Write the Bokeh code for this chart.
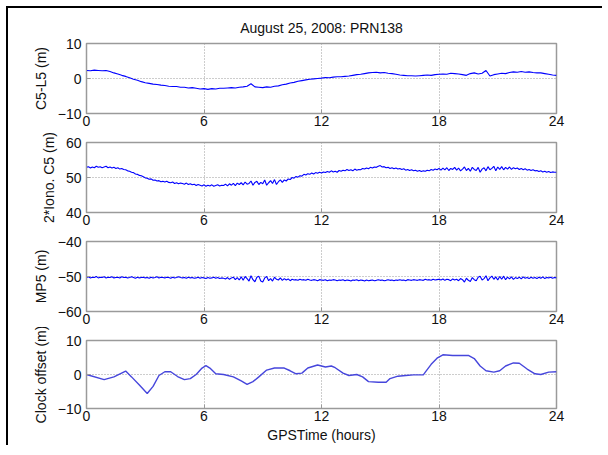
import numpy as np
from bokeh.plotting import figure
from bokeh.layouts import column
from bokeh.models import FixedTicker, Range1d, Title
from bokeh.embed import file_html
from bokeh.resources import INLINE

# ---------------- data ----------------
title_text = "August 25, 2008: PRN138"
x_ticks = [0, 6, 12, 18, 24]

# C5-L5 (m), sampled every 0.2 h
c5l5 = [2.3, 2.2, 2.4, 2.3, 2.2, 2.3, 2.0, 1.6, 1.3, 0.9,
        0.6, 0.2, -0.2, -0.5, -0.9, -1.2, -1.4, -1.6, -1.7, -1.9,
        -2.0, -2.2, -2.3, -2.3, -2.5, -2.5, -2.7, -2.6, -2.8, -3.0,
        -2.9, -3.1, -2.9, -3.0, -2.8, -2.8, -2.7, -2.6, -2.7, -2.5,
        -2.4, -2.2, -1.5, -2.4, -2.5, -2.6, -2.4, -2.5, -2.2, -2.1,
        -1.8, -1.6, -1.3, -1.1, -0.8, -0.6, -0.4, -0.2, -0.1, 0.0,
        0.1, 0.3, 0.2, 0.4, 0.5, 0.5, 0.6, 0.7, 0.9, 1.1,
        1.2, 1.4, 1.6, 1.7, 1.8, 1.6, 1.7, 1.5, 1.4, 1.2,
        1.0, 0.9, 0.8, 0.8, 0.7, 0.8, 0.9, 1.0, 0.9, 1.1,
        1.2, 1.3, 1.2, 1.5, 1.4, 1.3, 1.1, 0.9, 1.4, 1.6,
        1.3, 1.5, 2.3, 0.7, 1.1, 1.3, 1.5, 1.4, 1.7, 1.9,
        1.8, 2.0, 1.8, 1.9, 1.7, 1.6, 1.6, 1.4, 1.2, 1.0,
        0.9]

# 2*Iono. C5 (m), sampled every 0.1 h
iono = [52.9, 53.1, 52.7, 53.0, 52.8, 53.2, 52.9, 53.1, 52.8, 53.0,
        53.2, 52.8, 53.0, 52.7, 52.9, 52.6, 52.8, 52.4, 52.6, 52.3,
        52.2, 51.9, 51.8, 51.5, 51.4, 51.0, 50.9, 50.6, 50.5, 50.2,
        49.9, 49.8, 49.5, 49.6, 49.2, 49.3, 49.0, 49.1, 48.8, 48.9,
        48.7, 48.9, 48.6, 48.5, 48.7, 48.3, 48.5, 48.2, 48.4, 48.3,
        48.1, 48.4, 48.0, 48.2, 47.9, 48.1, 47.7, 48.0, 47.8, 47.6,
        47.9, 47.5, 47.8, 47.6, 47.9, 47.5, 47.7, 47.9, 47.6, 47.8,
        47.7, 48.1, 47.6, 48.2, 47.8, 48.3, 47.7, 48.4, 48.0, 48.5,
        47.9, 48.7, 48.1, 48.3, 49.0, 47.8, 48.6, 48.9, 48.0, 48.6,
        48.2, 49.3, 47.8, 48.5, 49.1, 48.3, 49.4, 48.0, 48.8, 49.3,
        48.6, 49.3, 49.0, 49.6, 49.4, 50.0, 49.8, 50.3, 50.1, 50.5,
        50.4, 50.9, 50.7, 51.1, 50.9, 51.3, 51.0, 51.4, 51.2, 51.5,
        51.3, 51.6, 51.4, 51.7, 51.5, 51.9, 51.6, 51.8, 51.5, 52.0,
        51.8, 52.1, 51.9, 52.3, 52.0, 52.2, 51.9, 52.4, 52.1, 52.3,
        52.2, 52.6, 52.4, 52.7, 52.5, 52.9, 52.7, 53.0, 52.9, 53.2,
        53.4, 53.0, 53.1, 52.8, 52.9, 52.6, 52.8, 52.5, 52.7, 52.4,
        52.6, 52.3, 52.5, 52.1, 52.3, 52.0, 52.2, 51.9, 52.1, 51.8,
        52.0, 51.7, 51.9, 51.8, 52.1, 51.9, 52.3, 52.1, 52.4, 52.2,
        52.6, 52.1, 52.7, 52.2, 52.8, 52.0, 52.6, 52.3, 52.9, 52.1,
        52.7, 51.9, 52.4, 53.0, 52.0, 52.6, 51.8, 52.9, 52.3, 52.0,
        52.9, 51.5, 52.4, 52.8, 51.9, 53.1, 52.2, 52.6, 53.2, 51.9,
        53.0, 52.3, 53.1, 52.2, 52.9, 52.4, 53.0, 52.3, 52.8, 52.5,
        52.7, 52.3, 52.6, 52.2, 52.5, 52.1, 52.3, 52.0, 52.2, 51.9,
        52.0, 51.7, 51.9, 51.6, 51.8, 51.5, 51.7, 51.4, 51.6, 51.5,
        51.5]

# MP5 (m), sampled every 0.1 h
mp5 = [-50.3, -50.1, -50.4, -50.2, -50.3, -50.0, -50.4, -50.2, -50.3, -50.1,
       -50.4, -50.2, -50.3, -50.1, -50.4, -50.3, -50.2, -50.4, -50.1, -50.3,
       -50.2, -50.4, -50.3, -50.1, -50.3, -50.5, -50.2, -50.4, -50.3, -50.2,
       -50.4, -50.3, -50.5, -50.2, -50.4, -50.3, -50.1, -50.4, -50.2, -50.3,
       -50.4, -50.2, -50.3, -50.5, -50.2, -50.4, -50.3, -50.1, -50.3, -50.4,
       -50.3, -50.5, -50.2, -50.4, -50.3, -50.5, -50.4, -50.2, -50.5, -50.3,
       -50.4, -50.6, -50.3, -50.5, -50.4, -50.2, -50.5, -50.3, -50.6, -50.4,
       -50.5, -50.7, -50.3, -50.8, -50.4, -50.2, -50.9, -50.3, -51.0, -50.1,
       -51.1, -50.0, -50.6, -51.3, -49.8, -50.9, -51.5, -50.2, -49.9, -51.3,
       -51.6, -50.4, -50.0, -51.2, -50.6, -51.3, -50.2, -50.8, -51.0, -50.4,
       -51.1, -50.6, -51.0, -50.7, -51.2, -50.8, -51.0, -50.9, -51.1, -50.8,
       -51.0, -50.9, -51.1, -50.8, -51.0, -51.1, -50.9, -51.0, -51.2, -50.9,
       -51.0, -51.1, -50.9, -51.2, -51.0, -51.1, -50.9, -51.0, -51.2, -51.0,
       -51.1, -50.9, -51.2, -51.0, -51.1, -51.3, -51.0, -51.1, -50.9, -51.2,
       -51.0, -51.1, -51.3, -51.0, -51.2, -51.1, -51.0, -51.2, -51.1, -50.9,
       -51.1, -51.0, -51.2, -51.1, -50.9, -51.1, -51.0, -51.2, -51.0, -51.1,
       -50.9, -51.1, -51.0, -51.2, -50.9, -51.0, -51.1, -50.9, -51.0, -51.1,
       -50.9, -51.0, -51.1, -50.8, -51.0, -50.9, -51.1, -50.8, -51.0, -50.9,
       -50.8, -51.0, -50.7, -51.1, -50.8, -50.9, -51.2, -50.7, -51.0, -50.8,
       -51.2, -50.6, -50.9, -51.6, -50.5, -51.1, -51.4, -50.3, -50.9, -51.2,
       -50.2, -49.9, -51.0, -50.6, -49.8, -51.2, -50.4, -49.9, -50.8, -50.1,
       -51.0, -50.0, -50.8, -49.9, -50.9, -50.2, -50.7, -50.1, -50.8, -50.3,
       -50.6, -50.2, -50.7, -50.1, -50.5, -50.3, -50.6, -50.2, -50.5, -50.3,
       -50.6, -50.2, -50.5, -50.1, -50.6, -50.3, -50.4, -50.2, -50.5, -50.3,
       -50.4]

# Clock offset (m): points
clock_hours = [0.0, 0.9, 1.4, 2.0, 2.3, 2.7, 3.1, 3.4, 3.7, 4.0, 4.3, 4.65,
               5.0, 5.3, 5.6, 5.9, 6.1, 6.3, 6.6, 7.0, 7.5, 7.9, 8.2, 8.5,
               8.8, 9.2, 9.6, 10.1, 10.4, 10.7, 11.0, 11.3, 11.8, 12.2,
               12.5, 12.7, 13.1, 13.4, 13.8, 14.1, 14.4, 14.9, 15.3, 15.5,
               15.9, 16.3, 16.7, 17.2, 17.3, 17.6, 17.9, 18.2, 18.7, 19.5,
               19.8, 20.1, 20.4, 20.8, 21.1, 21.4, 21.8, 22.1, 22.5, 22.9,
               23.2, 23.6, 24.0]
clock_offset = [0.0, -1.5, -0.7, 1.0, -0.7, -3.1, -5.6, -3.5, -0.3, 0.8, 0.8, -0.6,
                -1.5, -1.2, 0.0, 1.9, 2.6, 1.9, 0.2, 0.0, -0.7, -1.9, -2.9, -2.1,
                -0.7, 1.3, 1.9, 1.9, 1.1, 0.2, 0.4, 1.9, 2.8, 2.2,
                2.5, 2.0, 0.4, -0.3, 0.0, -0.7, -2.1, -2.3, -2.3, -1.2,
                -0.5, -0.3, -0.1, -0.1, 0.7, 3.0, 4.8, 5.8, 5.6, 5.6,
                4.7, 2.5, 1.1, 0.7, 1.1, 2.5, 3.4, 3.3, 1.6, 0.2,
                0.0, 0.7, 0.8]

panels = [
    ("C5-L5 (m)", [-10, 0, 10]),
    ("2*Iono. C5 (m)", [40, 50, 60]),
    ("MP5 (m)", [-60, -50, -40]),
    ("Clock offset (m)", [-10, 0, 10]),
]

# ---------------- styling ----------------
FONT = "Liberation Sans"
FS = "14px"
BOX = "#9a9a9a"
GRID = "#9a9a9a"

W = 594
LEFT = 78
RIGHT = W - LEFT - 470


def make_fig(idx, xs, ys, color, lw):
    label, yticks = panels[idx]
    top = 35 if idx == 0 else 13
    bottom = 35 if idx == 3 else 16
    h = top + 70 + bottom
    p = figure(width=W, height=h, output_backend="svg", toolbar_location=None,
               x_range=Range1d(0, 24), y_range=Range1d(yticks[0], yticks[-1]),
               min_border_left=LEFT, min_border_right=RIGHT,
               min_border_top=top, min_border_bottom=bottom)
    p.line(xs, ys, line_color=color, line_width=lw)

    p.outline_line_color = BOX
    p.outline_line_width = 1.5
    p.background_fill_color = "white"
    p.border_fill_color = "white"

    p.xaxis.ticker = FixedTicker(ticks=x_ticks)
    p.yaxis.ticker = FixedTicker(ticks=yticks)
    for ax in (p.xaxis[0], p.yaxis[0]):
        ax.axis_line_color = BOX
        ax.major_tick_line_color = BOX
        ax.major_tick_in = 4
        ax.major_tick_out = 0
        ax.minor_tick_line_color = None
        ax.major_label_text_font = FONT
        ax.major_label_text_font_size = FS
        ax.major_label_text_color = "#111111"
        ax.axis_label_text_font = FONT
        ax.axis_label_text_font_size = FS
        ax.axis_label_text_font_style = "normal"
        ax.axis_label_text_color = "#111111"
    p.xaxis.major_label_standoff = 2
    p.yaxis.major_label_standoff = 5
    p.yaxis.axis_label = label
    p.yaxis.axis_label_standoff = 6

    p.xgrid.ticker = FixedTicker(ticks=x_ticks[1:-1])
    p.ygrid.ticker = FixedTicker(ticks=[yticks[1]])
    for g in (p.xgrid[0], p.ygrid[0]):
        g.grid_line_color = GRID
        g.grid_line_dash = "1 2"
        g.grid_line_width = 1

    if idx == 0:
        p.title = None
        # spacer between frame and title (added first = nearest the frame)
        p.add_layout(Title(text=" ", text_font_size="6px", standoff=0), "above")
        p.add_layout(Title(text=title_text, align="center",
                           text_font=FONT, text_font_size=FS,
                           text_font_style="normal", text_color="#111111",
                           standoff=0), "above")
    if idx == 3:
        p.xaxis.axis_label = "GPSTime (hours)"
        p.xaxis.axis_label_standoff = 3
    return p


h1 = np.linspace(0, 24, len(c5l5))
h2 = np.linspace(0, 24, len(iono))
h3 = np.linspace(0, 24, len(mp5))

figs = [
    make_fig(0, h1, c5l5, "#0000ff", 1.1),
    make_fig(1, h2, iono, "#0000ff", 1.1),
    make_fig(2, h3, mp5, "#0000ff", 1.1),
    make_fig(3, clock_hours, clock_offset, "#4646dc", 1.4),
]

layout = column(*figs, spacing=0,
                styles={"border-top": "2px solid black",
                        "border-left": "2px solid black",
                        "margin-top": "6px",
                        "margin-left": "6px"})

open("out.html", "w").write(file_html(layout, INLINE))
